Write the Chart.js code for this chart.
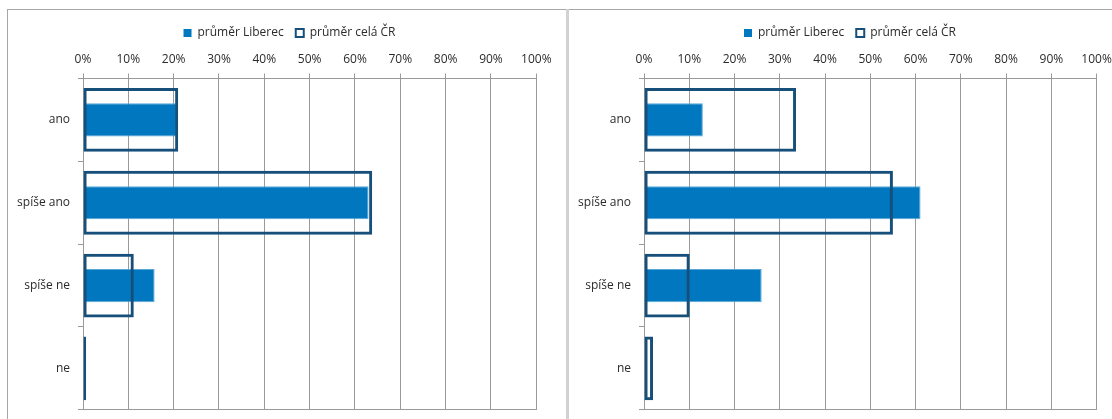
<!DOCTYPE html>
<html>
<head>
<meta charset="utf-8">
<script src="https://cdn.jsdelivr.net/npm/chart.js@4.4.1/dist/chart.umd.min.js"></script>
<style>
  body { margin: 0; width: 1112px; height: 419px; overflow: hidden; background: #fff; position: relative; }
  .panel { position: absolute; top: 9px; height: 420px; border-top: 1px solid #a6a6a6; box-sizing: border-box; }
  #pLeft { left: 7px; width: 559px; border-left: 1px solid #a6a6a6; }
  #pRight { left: 569px; width: 560px; }
  #divider { position: absolute; left: 566px; top: 9px; width: 3px; height: 410px; background: #d2d2d2; }
  canvas { position: absolute; top: 0; left: 0; }
</style>
</head>
<body>
<div class="panel" id="pLeft"><canvas id="chartLeft" width="563" height="415"></canvas></div>
<div class="panel" id="pRight"><canvas id="chartRight" width="562" height="415"></canvas></div>
<div id="divider"></div>
<script>
  // categories and values (percent)
  const categories = ['ano', 'spíše ano', 'spíše ne', 'ne'];
  const seriesNames = ['průměr Liberec', 'průměr celá ČR'];

  const liberecLeft = [20.7, 63.0, 15.8, 0.3];
  const crLeft = [21.0, 63.8, 11.2, 0.7];

  const liberecRight = [13.0, 61.1, 26.0, 0];
  const crRight = [33.6, 55.0, 10.1, 2.0];

  const xTicks = [0, 10, 20, 30, 40, 50, 60, 70, 80, 90, 100];

  const fillBlue = '#0077be';
  const darkBlue = '#174f7b';
  const gridGray = '#9a9a9a';
  const textColor = '#2b2b2b';

  Chart.defaults.font.family = '"Open Sans", "Noto Sans", sans-serif';
  Chart.defaults.font.size = 12;
  Chart.defaults.color = textColor;

  function makeChart(id, liberec, cr, padRight) {
    return new Chart(document.getElementById(id), {
      type: 'bar',
      data: {
        labels: categories,
        datasets: [
          {
            label: seriesNames[0],
            data: liberec,
            backgroundColor: fillBlue,
            borderColor: '#58a6d8',
            borderWidth: 1,
            borderSkipped: false,
            barPercentage: 0.40,
            categoryPercentage: 1,
            order: 2
          },
          {
            label: seriesNames[1],
            data: cr,
            backgroundColor: 'rgba(0,0,0,0)',
            borderColor: darkBlue,
            borderWidth: 3,
            borderSkipped: false,
            barPercentage: 0.77,
            categoryPercentage: 1,
            order: 1
          }
        ]
      },
      options: {
        indexAxis: 'y',
        responsive: false,
        animation: false,
        devicePixelRatio: 1,
        datasets: { bar: { grouped: false } },
        layout: { padding: { top: 5, right: 0, bottom: 2, left: 0 } },
        plugins: {
          tooltip: { enabled: false },
          legend: {
            position: 'top',
            labels: {
              boxWidth: 8,
              boxHeight: 8,
              padding: 12,
              color: textColor,
              sort: (a, b) => a.datasetIndex - b.datasetIndex,
              generateLabels: (chart) => chart.data.datasets.map((ds, i) => ({
                text: ds.label,
                fillStyle: i === 0 ? fillBlue : '#ffffff',
                strokeStyle: i === 0 ? fillBlue : darkBlue,
                lineWidth: i === 0 ? 0 : 2,
                datasetIndex: i,
                fontColor: textColor
              }))
            }
          }
        },
        scales: {
          x: {
            position: 'top',
            min: 0,
            max: 100,
            afterBuildTicks: (scale) => { scale.ticks = xTicks.map(v => ({ value: v })); },
            afterFit: (scale) => { scale.height = 29.5; scale.paddingRight = padRight; },
            ticks: { callback: (v) => v + '%', padding: 6.5, maxRotation: 0 },
            grid: { color: gridGray, tickLength: 5, lineWidth: 1 },
            border: { color: gridGray }
          },
          xb: {
            position: 'bottom',
            axis: 'x',
            min: 0,
            max: 100,
            ticks: { display: false },
            grid: { display: false, drawTicks: false },
            border: { color: gridGray }
          },
          y: {
            ticks: { padding: 8 },
            grid: { drawOnChartArea: false, color: gridGray, tickLength: 5, offset: true },
            border: { color: gridGray },
            afterFit: (scale) => { scale.width = 75; }
          }
        }
      }
    });
  }

  makeChart('chartLeft', liberecLeft, crLeft, 34.7);
  makeChart('chartRight', liberecRight, crRight, 34.4);
</script>
</body>
</html>
